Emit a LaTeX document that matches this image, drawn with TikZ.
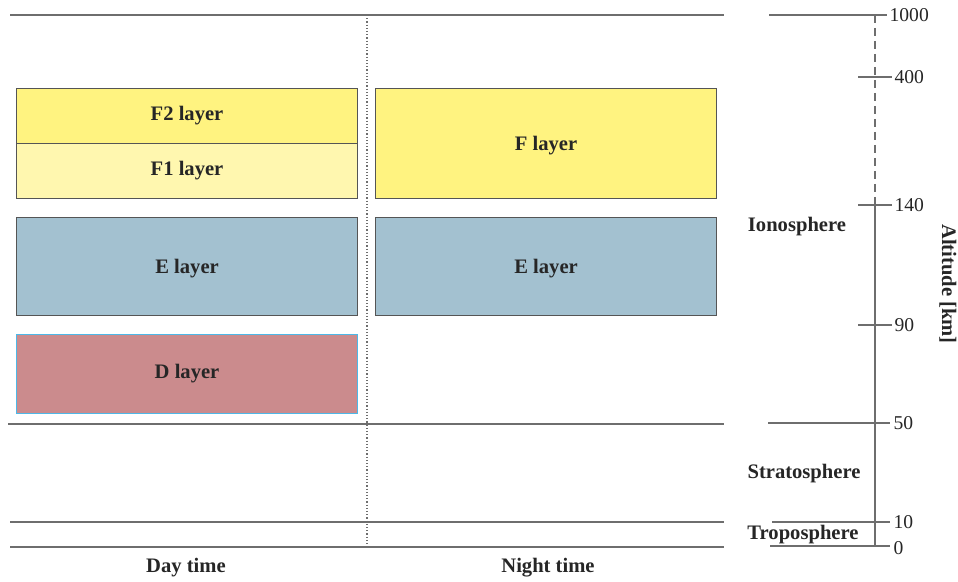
\documentclass[tikz,border=0pt]{standalone}
\usepackage{fontspec}
\setmainfont{Liberation Serif}
\definecolor{linegray}{HTML}{6E6E6E}
\definecolor{boxgray}{HTML}{555555}
\definecolor{ftwo}{HTML}{FFF380}
\definecolor{fone}{HTML}{FFF7AF}
\definecolor{elayer}{HTML}{A3C1D0}
\definecolor{dlayer}{HTML}{CB8B8D}
\definecolor{dborder}{HTML}{4DB8E8}
\begin{document}
\begin{tikzpicture}[x=0.5pt,y=-0.5pt,
						every node/.style = {font=\fontsize{9.8}{11}\selectfont, text=black!85},
						level/.style = {draw=linegray, line width=0.6pt},
						layerbox/.style = {draw=boxgray, line width=0.55pt, anchor=north west, inner sep=0pt,
							minimum width=170.5pt, font=\fontsize{10.3}{12}\selectfont\bfseries},
						region/.style = {font=\fontsize{10.3}{12}\selectfont\bfseries},
						tick/.style = {draw=linegray, line width=0.6pt}]

					\useasboundingbox (0,0) rectangle (958,582);

					\def\dayx{16}
					\def\nightx{375}

					% levels
					\draw[level] (10,15) -- (724,15);
					\draw[level] (8,424) -- (724,424);
					\draw[level] (10,522) -- (724,522);
					\draw[level] (10,547) -- (724,547);
					\draw[linegray,densely dotted,line width=0.6pt] (367,15) -- (367,547);

					% layers
					\node[layerbox,fill=ftwo,minimum height=27.5pt] (f2) at (\dayx,88) {F2 layer};
					\node[layerbox,fill=fone,minimum height=27.5pt] (f1) at (\dayx,143) {F1 layer};
					\node[layerbox,fill=ftwo,minimum height=55pt,text depth=0pt] (fn) at (\nightx,88) {F layer};
					\node[layerbox,fill=elayer,minimum height=49pt,text depth=0pt] (ed) at (\dayx,217) {E layer};
					\node[layerbox,fill=elayer,minimum height=49pt,text depth=0pt] (en) at (\nightx,217) {E layer};
					\node[layerbox,fill=dlayer,draw=dborder,minimum height=39.5pt] (dd) at (\dayx,334) {D layer};

					% altitude axis
					\coordinate (atop) at (875,15);
					\coordinate (amid) at (875,205);
					\coordinate (abot) at (875,546);
					\draw[tick,dashed,dash pattern=on 4pt off 2.5pt] (atop) -- (amid);
					\draw[tick] (amid) -- (abot);
					\draw[tick] (769,15) -- (887,15) node[right,inner sep=1pt] (t1000) {1000};
					\foreach \y/\lab in {77/400,205/140,325/90}
						\draw[tick] (858,\y) -- (892,\y) node[right,inner sep=1pt] (t\lab) {\lab};
					\draw[tick] (768,423) -- (890,423) node[right,inner sep=1.5pt] (t50) {50};
					\draw[tick] (772,522) -- (890,522) node[right,inner sep=1.5pt] (t10) {10};
					\draw[tick] (770,546) -- (890,546) node[right,inner sep=1.5pt,yshift=-1pt] (t0) {0};

					\node[region] (iono) at (797,227) {Ionosphere};
					\node[region] (strato) at (804,474) {Stratosphere};
					\node[region] (tropo) at (803,535) {Troposphere};
					\node[region,rotate=-90] (alt) at (948,284) {Altitude [km]};

					\node[region] (day) at (186,568) {Day time};
					\node[region] (night) at (548,568) {Night time};

				\end{tikzpicture}
\end{document}
